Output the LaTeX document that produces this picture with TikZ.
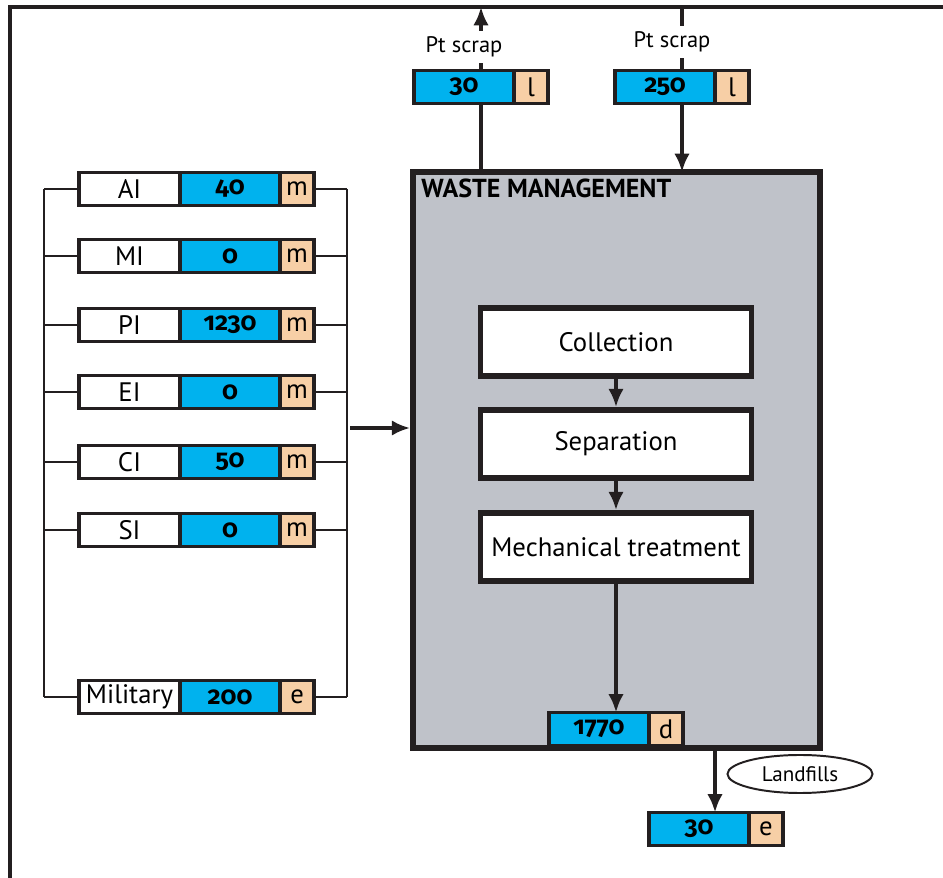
\documentclass[tikz,border=0pt]{standalone}
\usepackage{fontspec}
\setmainfont{PT Sans}
\newfontfamily\numfont[Numbers=OldStyle]{Fira Sans}
\usetikzlibrary{positioning, shapes.geometric, arrows.meta}
\definecolor{flowblue}{HTML}{00B2EE}
\definecolor{unittan}{HTML}{F7CFA6}
\definecolor{wmgray}{HTML}{BFC2C9}
\definecolor{ink}{HTML}{231F20}

\tikzset{
    cell/.style = {draw=ink, line width=2.3pt, inner sep=0pt, outer sep=0pt, minimum height=0.825cm},
    namebox/.style = {cell, fill=white, minimum width=2.525cm, font=\fontsize{19}{21}\selectfont},
    valbox/.style = {cell, fill=flowblue, minimum width=2.5cm, font=\numfont\bfseries\fontsize{18}{20}\selectfont},
    unitbox/.style = {cell, fill=unittan, minimum width=0.85cm, font=\fontsize{19}{21}\selectfont},
    procbox/.style = {draw=ink, line width=4pt, fill=white, minimum width=6.775cm, minimum height=1.7cm, font=\fontsize{19}{21}\selectfont},
    flow/.style = {draw=ink, line width=2.8pt},
    bus/.style = {draw=ink, line width=1.4pt},
    scraplbl/.style = {font=\fontsize{16}{18}\selectfont, inner sep=4pt},
}

\begin{document}
\begin{tikzpicture}[x=0.025cm, y=-0.025cm, >={Latex[length=13pt,width=11pt]}]
    \useasboundingbox (0,0) rectangle (943,878);

    % frame
    \coordinate (frame-tr) at (943,7);
    \coordinate (frame-tl) at (10,7);
    \coordinate (frame-bl) at (10,878);
    \draw[draw=ink, line width=3pt] (frame-tr) -- (frame-tl) -- (frame-bl);

    % waste management
    \node[draw=ink, line width=4pt, fill=wmgray, minimum width=10.175cm, minimum height=14.4cm] (wm) at (616.5,460) {};
    \node[anchor=base west, inner sep=0pt, font=\bfseries\fontsize{18.5}{21}\selectfont] (wm-title) at (421,198) {WASTE MANAGEMENT};

    \node[procbox] (coll) at (616,342) {Collection};
    \node[procbox] (sep) at (616,444) {Separation};
    \node[procbox] (mech) at (616,547) {Mechanical treatment};
    \draw[flow, ->] (coll) -- (sep);
    \draw[flow, ->] (sep) -- (mech);

    \node[valbox, anchor=west] (dis-val) at (549,729) {1770};
    \node[unitbox, right = 0pt of dis-val] (dis-unit) {d};
    \draw[flow, ->] (mech.south) -- (mech.south |- dis-val.north);

    % sectors
    \coordinate (lbus-top) at (44,189);
    \coordinate (lbus-bot) at (44,697);
    \coordinate (rbus-top) at (347,189);
    \coordinate (rbus-bot) at (347,697);
    \draw[bus] (lbus-top) -- (lbus-bot);
    \draw[bus] (rbus-top) -- (rbus-bot);
    \foreach \id/\lab/\val/\u/\yy in {ai/AI/40/m/189, mi/MI/0/m/256, pi/PI/1230/m/325, ei/EI/0/m/392, ci/CI/50/m/462, si/SI/0/m/530, mil/Military/200/e/697} {
        \node[namebox, anchor=west] (\id-name) at (79,\yy) {\lab};
        \node[valbox, right = 0pt of \id-name] (\id-val) {\val};
        \node[unitbox, right = 0pt of \id-val] (\id-unit) {\u};
        \draw[bus] (\id-name.west) -- (\id-name.west -| lbus-top);
        \draw[bus] (\id-unit.east) -- (\id-unit.east -| rbus-top);
    }
    \coordinate (bus-out) at (350,428);
    \draw[flow, ->] (bus-out) -- (bus-out -| wm.west);

    % scrap out
    \node[valbox, anchor=west] (out-val) at (414,87) {30};
    \node[unitbox, right = 0pt of out-val] (out-unit) {l};
    \coordinate (out-base) at (481,172);
    \node[scraplbl] (out-lbl) at (464,47) {Pt scrap};
    \draw[flow] (out-base) -- (out-base |- out-val.south);
    \draw[flow] (out-base |- out-val.north) -- (out-base |- out-lbl.south);
    \draw[flow, ->] (out-base |- out-lbl.north) -- (out-base |- frame-tl);

    % scrap in
    \node[valbox, anchor=west] (in-val) at (615,87) {250};
    \node[unitbox, right = 0pt of in-val] (in-unit) {l};
    \coordinate (in-base) at (682,172);
    \node[scraplbl] (in-lbl) at (672,42) {Pt scrap};
    \draw[flow] (in-base |- frame-tl) -- (in-base |- in-lbl.north);
    \draw[flow] (in-base |- in-lbl.south) -- (in-base |- in-val.north);
    \draw[flow, ->] (in-base |- in-val.south) -- (in-base);

    % landfills
    \node[valbox, anchor=west] (land-val) at (649,829) {30};
    \node[unitbox, right = 0pt of land-val] (land-unit) {e};
    \coordinate (land-start) at (715,748);
    \draw[flow, ->] (land-start) -- (land-start |- land-val.north);
    \node[draw=ink, line width=1.4pt, ellipse, minimum width=3.625cm, minimum height=0.95cm, inner sep=0pt, font=\fontsize{15}{17}\selectfont] (landfills) at (800,774) {Landfills};

\end{tikzpicture}
\end{document}
